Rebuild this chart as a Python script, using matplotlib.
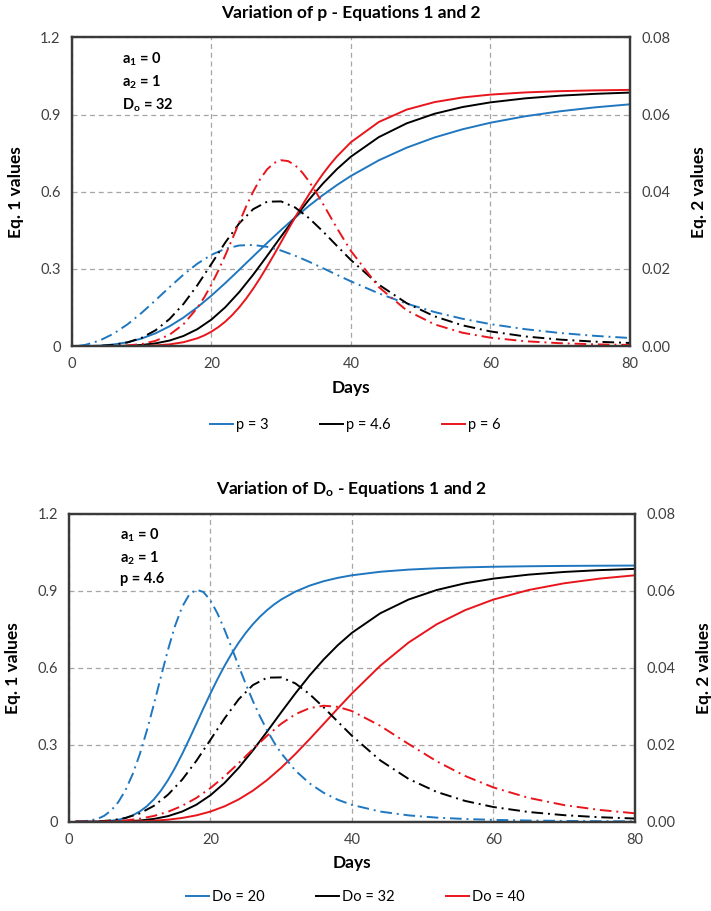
import matplotlib
matplotlib.use("Agg")
from matplotlib import pyplot as plt

plt.rcParams['font.family'] = ['Lato', 'DejaVu Sans']
plt.rcParams['mathtext.fontset'] = 'custom'
plt.rcParams['mathtext.rm'] = 'Lato:bold'
plt.rcParams['mathtext.it'] = 'Lato:bold'
plt.rcParams['mathtext.bf'] = 'Lato:bold'
plt.rcParams['mathtext.default'] = 'rm'

# days
days = [1, 2, 4, 6, 8, 10, 12, 14, 16, 18, 20, 22, 24, 26, 28, 30, 32, 34, 36, 38, 40,
        44, 48, 52, 56, 60, 65, 70, 75, 80]
# denser reading around the sharp peaks
days_p6 = [1, 2, 4, 6, 8, 10, 12, 14, 16, 18, 19, 20, 21, 22, 23, 24, 25, 26, 27, 28, 29,
           30, 31, 32, 33, 34, 35, 36, 37, 38, 40, 44, 48, 52, 56, 60, 65, 70, 75, 80]
days_do20 = [1, 2, 4, 5, 6, 7, 8, 9, 10, 11, 12, 13, 14, 15, 16, 17, 18, 19, 20, 21, 22,
             23, 24, 25, 26, 27, 28, 29, 30, 32, 34, 36, 38, 40, 44, 48, 52, 56, 60, 65, 70, 75, 80]

# top chart: D0 = 32, p varies
p3_eq1 = [0.0000, 0.0002, 0.0020, 0.0066, 0.0154, 0.0296, 0.0501, 0.0772, 0.1111, 0.1511,
          0.1962, 0.2452, 0.2968, 0.3491, 0.4012, 0.4518, 0.5000, 0.5454, 0.5874, 0.6261,
          0.6614, 0.7222, 0.7714, 0.8110, 0.8428, 0.8683, 0.8934, 0.9128, 0.9280, 0.9398]
p3_eq2 = [0.00009, 0.00037, 0.00146, 0.00325, 0.00568, 0.00862, 0.01190, 0.01527, 0.01852, 0.02138,
          0.02366, 0.02524, 0.02609, 0.02622, 0.02574, 0.02477, 0.02344, 0.02188, 0.02020, 0.01848,
          0.01680, 0.01368, 0.01102, 0.00884, 0.00710, 0.00572, 0.00440, 0.00341, 0.00267, 0.00212]
p46_eq1 = [0.0000, 0.0000, 0.0001, 0.0005, 0.0017, 0.0047, 0.0109, 0.0218, 0.0396, 0.0662,
           0.1032, 0.1514, 0.2103, 0.2779, 0.3511, 0.4264, 0.5000, 0.5694, 0.6322, 0.6880,
           0.7363, 0.8123, 0.8659, 0.9032, 0.9292, 0.9474, 0.9630, 0.9734, 0.9805, 0.9854]
p46_eq2 = [0.00000, 0.00001, 0.00008, 0.00035, 0.00098, 0.00216, 0.00412, 0.00702, 0.01093, 0.01580,
           0.02129, 0.02686, 0.03183, 0.03550, 0.03743, 0.03750, 0.03594, 0.03317, 0.02971, 0.02599,
           0.02233, 0.01594, 0.01113, 0.00773, 0.00540, 0.00382, 0.00252, 0.00170, 0.00117, 0.00083]
p6_eq1 = [0.0000, 0.0000, 0.0000, 0.0000, 0.0002, 0.0009, 0.0028, 0.0070, 0.0154, 0.0307,
          0.0420, 0.0563, 0.0740, 0.0955, 0.1212, 0.1511, 0.1853, 0.2235, 0.2651, 0.3098,
          0.3565, 0.4044, 0.4526, 0.5000, 0.5461, 0.5901, 0.6312, 0.6697, 0.7050, 0.7372,
          0.7924, 0.8711, 0.9193, 0.9485, 0.9664, 0.9775, 0.9860, 0.9910, 0.9940, 0.9959]
p6_eq2 = [0.00000, 0.00000, 0.00001, 0.00004, 0.00018, 0.00056, 0.00138, 0.00296, 0.00568, 0.00993,
          0.01270, 0.01593, 0.01957, 0.02356, 0.02778, 0.03207, 0.03623, 0.04004, 0.04330, 0.04582,
          0.04747, 0.04817, 0.04795, 0.04688, 0.04507, 0.04269, 0.03991, 0.03687, 0.03373, 0.03059,
          0.02468, 0.01531, 0.00927, 0.00564, 0.00348, 0.00220, 0.00128, 0.00077, 0.00048, 0.00031]

# bottom chart: p = 4.6, D0 varies
do20_eq1 = [0.0000, 0.0000, 0.0006, 0.0017, 0.0039, 0.0079, 0.0146, 0.0248, 0.0396, 0.0601,
            0.0871, 0.1211, 0.1624, 0.2103, 0.2638, 0.3214, 0.3811, 0.4413, 0.5000, 0.5559,
            0.6079, 0.6555, 0.6982, 0.7363, 0.7698, 0.7991, 0.8246, 0.8468, 0.8659, 0.8968,
            0.9199, 0.9373, 0.9504, 0.9604, 0.9741, 0.9825, 0.9878, 0.9913, 0.9937, 0.9956,
            0.9969, 0.9977, 0.9983]
do20_eq2 = [0.00000, 0.00006, 0.00070, 0.00156, 0.00299, 0.00517, 0.00825, 0.01234, 0.01749, 0.02362,
            0.03047, 0.03767, 0.04469, 0.05092, 0.05583, 0.05901, 0.06028, 0.05969, 0.05750, 0.05408,
            0.04984, 0.04517, 0.04039, 0.03573, 0.03136, 0.02736, 0.02376, 0.02058, 0.01780, 0.01331,
            0.00997, 0.00752, 0.00571, 0.00437, 0.00264, 0.00165, 0.00106, 0.00071, 0.00048, 0.00031,
            0.00021, 0.00014, 0.00010]
do32_eq1 = p46_eq1
do32_eq2 = p46_eq2
do40_eq1 = [0.0000, 0.0000, 0.0000, 0.0002, 0.0006, 0.0017, 0.0039, 0.0079, 0.0146, 0.0248,
            0.0396, 0.0601, 0.0871, 0.1211, 0.1624, 0.2103, 0.2638, 0.3214, 0.3811, 0.4413,
            0.5000, 0.6079, 0.6982, 0.7698, 0.8246, 0.8659, 0.9032, 0.9292, 0.9474, 0.9604]
do40_eq2 = [0.00000, 0.00000, 0.00003, 0.00012, 0.00035, 0.00078, 0.00150, 0.00259, 0.00412, 0.00617,
            0.00875, 0.01181, 0.01524, 0.01884, 0.02234, 0.02546, 0.02792, 0.02951, 0.03014, 0.02985,
            0.02875, 0.02492, 0.02020, 0.01568, 0.01188, 0.00890, 0.00619, 0.00432, 0.00306, 0.00219]

colors = ['#1f77c0', 'black', '#e8161c']

panels = [
    {'rect': [0.101, 0.620, 0.785, 0.339],
     'title': 'Variation of p - Equations 1 and 2',
     'note': 'a$_1$ = 0\na$_2$ = 1\nD$_o$ = 32',
     'labels': ['p = 3', 'p = 4.6', 'p = 6'],
     'x': [days, days, days_p6],
     'eq1': [p3_eq1, p46_eq1, p6_eq1],
     'eq2': [p3_eq2, p46_eq2, p6_eq2],
     'leg_y': 0.533},
    {'rect': [0.097, 0.098, 0.796, 0.338],
     'title': 'Variation of D$_o$ - Equations 1 and 2',
     'note': 'a$_1$ = 0\na$_2$ = 1\np = 4.6',
     'labels': ['Do = 20', 'Do = 32', 'Do = 40'],
     'x': [days_do20, days, days],
     'eq1': [do20_eq1, do32_eq1, do40_eq1],
     'eq2': [do20_eq2, do32_eq2, do40_eq2],
     'leg_y': 0.015},
]

fig = plt.figure(figsize=(7.11, 9.11), dpi=100)

for pn in panels:
    ax = fig.add_axes(pn['rect'])
    ax2 = ax.twinx()
    handles = []
    for i in range(3):
        h, = ax.plot(pn['x'][i], pn['eq1'][i], color=colors[i], lw=1.4, label=pn['labels'][i])
        handles.append(h)
        ax2.plot(pn['x'][i], pn['eq2'][i], color=colors[i], lw=1.4, dashes=(6, 2.5, 1, 2.5))

    ax.set_xlim(0, 80)
    ax.set_ylim(0, 1.2)
    ax2.set_ylim(0, 0.08)
    ax.set_xticks([0, 20, 40, 60, 80])
    ax.set_yticks([0, 0.3, 0.6, 0.9, 1.2])
    ax.set_yticklabels(['0', '0.3', '0.6', '0.9', '1.2'])
    ax2.set_yticks([0, 0.02, 0.04, 0.06, 0.08])
    ax2.set_yticklabels(['0.00', '0.02', '0.04', '0.06', '0.08'])
    ax.grid(True, color='#a6a6a6', ls=(0, (4, 3)), lw=0.9)
    ax.set_axisbelow(True)
    for a in (ax, ax2):
        a.tick_params(length=0, labelsize=10.5, colors='#404040', pad=8)
        for s in a.spines.values():
            s.set_color('#3a3a3a')
            s.set_linewidth(1.6)

    ax.set_xlabel('Days', fontsize=12.5, fontweight='bold', labelpad=6)
    ax.set_ylabel('Eq. 1 values', fontsize=12.5, fontweight='bold', labelpad=12)
    ax2.set_ylabel('Eq. 2 values', fontsize=12.5, fontweight='bold', labelpad=15, rotation=90)
    ax.set_title(pn['title'], fontsize=12.5, fontweight='bold', pad=14)
    ax.text(7.2, 1.15, pn['note'], fontsize=10.5, fontweight='bold', va='top', linespacing=1.45)

    fig.legend(handles=handles, loc='center', bbox_to_anchor=(0.5, pn['leg_y']), ncol=3,
               frameon=False, fontsize=10.5, handlelength=1.6, handletextpad=0.2,
               columnspacing=3.5)

fig.savefig('out.png', dpi=100)
